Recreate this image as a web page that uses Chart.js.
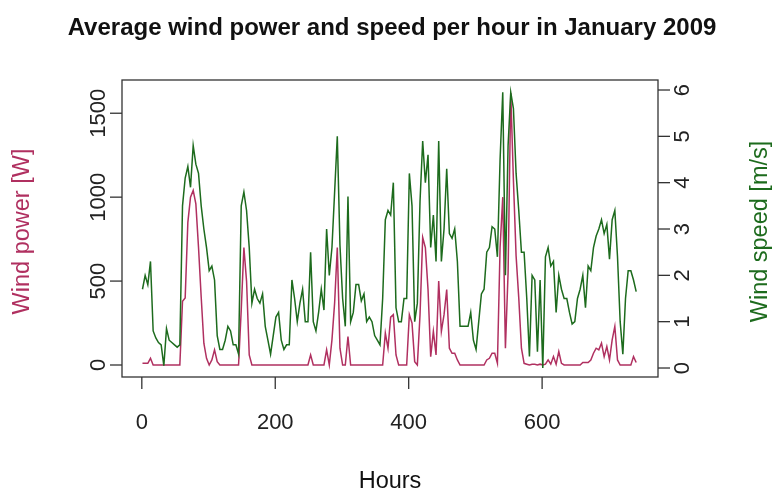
<!DOCTYPE html>
<html>
<head>
<meta charset="utf-8">
<script src="https://cdn.jsdelivr.net/npm/chart.js@4/dist/chart.umd.min.js"></script>
<style>
  body { margin: 0; background: #fff; }
  #wrap { width: 774px; height: 490px; }
</style>
</head>
<body>
<div id="wrap"><canvas id="windChart" width="774" height="490"></canvas></div>
<script>
// hourly samples (every 4 h), January 2009
const speed = [
  1.7, 2.0, 1.8, 2.3, 0.8, 0.65, 0.55, 0.5, 0.05, 0.85,
  0.6, 0.55, 0.5, 0.45, 0.5, 3.5, 4.1, 4.35, 3.9, 4.8,
  4.4, 4.2, 3.5, 3.0, 2.6, 2.1, 2.2, 1.9, 0.7, 0.4,
  0.4, 0.6, 0.9, 0.8, 0.5, 0.5, 0.3, 3.5, 3.8, 3.4,
  2.6, 1.4, 1.7, 1.5, 1.4, 1.6, 0.9, 0.6, 0.3, 0.7,
  1.1, 1.2, 0.6, 0.4, 0.5, 0.5, 1.9, 1.5, 1.0, 1.4,
  1.7, 1.0, 1.0, 2.5, 1.0, 0.8, 1.2, 1.7, 1.25, 3.0,
  2.0, 2.6, 3.8, 5.0, 2.65, 1.5, 0.9, 3.7, 1.0, 1.2,
  1.8, 1.8, 1.45, 1.6, 1.0, 1.1, 1.0, 0.7, 0.6, 0.5,
  1.5, 3.2, 3.4, 3.3, 4.0, 1.3, 1.0, 1.0, 1.5, 1.5,
  4.2, 3.5, 1.0, 1.4, 3.6, 4.9, 4.0, 4.6, 2.6, 3.3,
  2.3, 4.9, 2.3, 3.0, 4.3, 2.9, 2.8, 3.0, 2.3, 0.9,
  0.9, 0.9, 0.9, 1.2, 0.6, 0.4, 1.0, 1.6, 1.7, 2.5,
  2.6, 3.05, 3.0, 2.4, 4.5, 5.95, 2.0, 4.8, 5.95, 5.6,
  4.2, 3.4, 2.5, 2.5, 1.5, 0.25, 2.0, 1.9, 0.35, 1.9,
  0.0, 2.4, 2.6, 2.2, 2.3, 1.2, 2.0, 1.7, 1.5, 1.5,
  1.2, 0.95, 1.0, 1.5, 1.7, 2.0, 1.3, 2.2, 2.1, 2.6,
  2.85, 3.0, 3.2, 2.9, 3.1, 2.35, 3.2, 3.4, 2.4, 1.0,
  0.3, 1.5, 2.1, 2.1, 1.9, 1.65
];
const power = [
  10, 10, 10, 40, 0, 0, 0, 0, 0, 0,
  0, 0, 0, 0, 0, 380, 400, 850, 1000, 1040,
  960, 700, 405, 130, 40, 0, 30, 90, 20, 0,
  0, 0, 0, 0, 0, 0, 0, 327, 700, 500,
  60, 0, 0, 0, 0, 0, 0, 0, 0, 0,
  0, 0, 0, 0, 0, 0, 0, 0, 0, 0,
  0, 0, 0, 60, 0, 0, 0, 0, 0, 90,
  0, 150, 370, 700, 100, 0, 0, 170, 0, 0,
  0, 0, 0, 0, 0, 0, 0, 0, 0, 0,
  0, 190, 100, 285, 300, 60, 0, 0, 0, 0,
  300, 250, 20, 0, 300, 760, 700, 450, 50, 200,
  60, 500, 200, 300, 450, 100, 70, 70, 30, 0,
  0, 0, 0, 0, 0, 0, 0, 0, 0, 30,
  40, 70, 70, 10, 700, 1000, 100, 550, 1620, 1100,
  650, 400, 100, 10, 5, 0, 5, 5, 0, 5,
  0, 5, 30, 5, 50, 5, 80, 10, 0, 0,
  0, 0, 0, 0, 0, 15, 15, 15, 30, 70,
  100, 90, 130, 50, 110, 30, 150, 230, 30, 0,
  0, 0, 0, 0, 50, 15
];
const hours = speed.map((_, i) => 1 + 4 * i);

const xTicks = [0, 200, 400, 600];
const powerTicks = [0, 500, 1000, 1500];
const speedTicks = [0, 1, 2, 3, 4, 5, 6];

const PINK = '#b03060';
const GREEN = '#1d6b1d';
const FONT = '"Liberation Sans", Arial, sans-serif';

// R-style frame, ticks and rotated labels
const rAxes = {
    id: 'rAxes',
    afterDraw(chart) {
        const ctx = chart.ctx;
        const a = chart.chartArea;
        const sx = chart.scales.x, sp = chart.scales.yPower, ss = chart.scales.ySpeed;
        ctx.save();
        ctx.strokeStyle = '#333';
        ctx.lineWidth = 1.3;
        ctx.strokeRect(a.left, a.top, a.right - a.left, a.bottom - a.top);
        ctx.fillStyle = '#222';
        ctx.font = '22px ' + FONT;

        ctx.textAlign = 'center';
        ctx.textBaseline = 'alphabetic';
        xTicks.forEach(v => {
            const px = sx.getPixelForValue(v);
            ctx.beginPath(); ctx.moveTo(px, a.bottom); ctx.lineTo(px, a.bottom + 12); ctx.stroke();
            ctx.fillText(String(v), px, 429);
        });

        powerTicks.forEach(v => {
            const py = sp.getPixelForValue(v);
            ctx.beginPath(); ctx.moveTo(a.left, py); ctx.lineTo(a.left - 12, py); ctx.stroke();
            ctx.save(); ctx.translate(105, py); ctx.rotate(-Math.PI / 2);
            ctx.fillText(String(v), 0, 0); ctx.restore();
        });

        speedTicks.forEach(v => {
            const py = ss.getPixelForValue(v);
            ctx.beginPath(); ctx.moveTo(a.right, py); ctx.lineTo(a.right + 12, py); ctx.stroke();
            ctx.save(); ctx.translate(689, py); ctx.rotate(-Math.PI / 2);
            ctx.fillText(String(v), 0, 0); ctx.restore();
        });

        const midY = (a.top + a.bottom) / 2 + 3;
        ctx.font = '23.5px ' + FONT;
        ctx.fillStyle = PINK;
        ctx.save(); ctx.translate(29, midY); ctx.rotate(-Math.PI / 2);
        ctx.fillText('Wind power [W]', 0, 0); ctx.restore();
        ctx.fillStyle = GREEN;
        ctx.save(); ctx.translate(767, midY); ctx.rotate(-Math.PI / 2);
        ctx.fillText('Wind speed [m/s]', 0, 0); ctx.restore();

        ctx.fillStyle = '#111';
        ctx.fillText('Hours', (a.left + a.right) / 2, 488);
        ctx.font = 'bold 24px ' + FONT;
        ctx.fillText('Average wind power and speed per hour in January 2009', (a.left + a.right) / 2 + 2, 35);
        ctx.restore();
    }
};

const ctx = document.getElementById('windChart').getContext('2d');
const windChart = new Chart(ctx, {
    type: 'line',
    data: {
        datasets: [{
            label: 'Wind speed [m/s]',
            data: hours.map((h, i) => ({ x: h, y: speed[i] })),
            yAxisID: 'ySpeed',
            borderColor: GREEN,
            borderWidth: 1.5,
            pointRadius: 0,
            tension: 0,
            order: 0
        }, {
            label: 'Wind power [W]',
            data: hours.map((h, i) => ({ x: h, y: power[i] })),
            yAxisID: 'yPower',
            borderColor: PINK,
            borderWidth: 1.5,
            pointRadius: 0,
            tension: 0,
            order: 1
        }]
    },
    options: {
        responsive: false,
        animation: false,
        layout: { padding: { left: 122, right: 116, top: 80, bottom: 113 } },
        plugins: { legend: { display: false }, tooltip: { enabled: false } },
        scales: {
            x: { type: 'linear', display: false, min: -29.7, max: 773.7 },
            yPower: { type: 'linear', display: false, position: 'left', min: -71.5, max: 1698 },
            ySpeed: { type: 'linear', display: false, position: 'right', min: -0.194, max: 6.216 }
        }
    },
    plugins: [rAxes]
});
</script>
</body>
</html>
